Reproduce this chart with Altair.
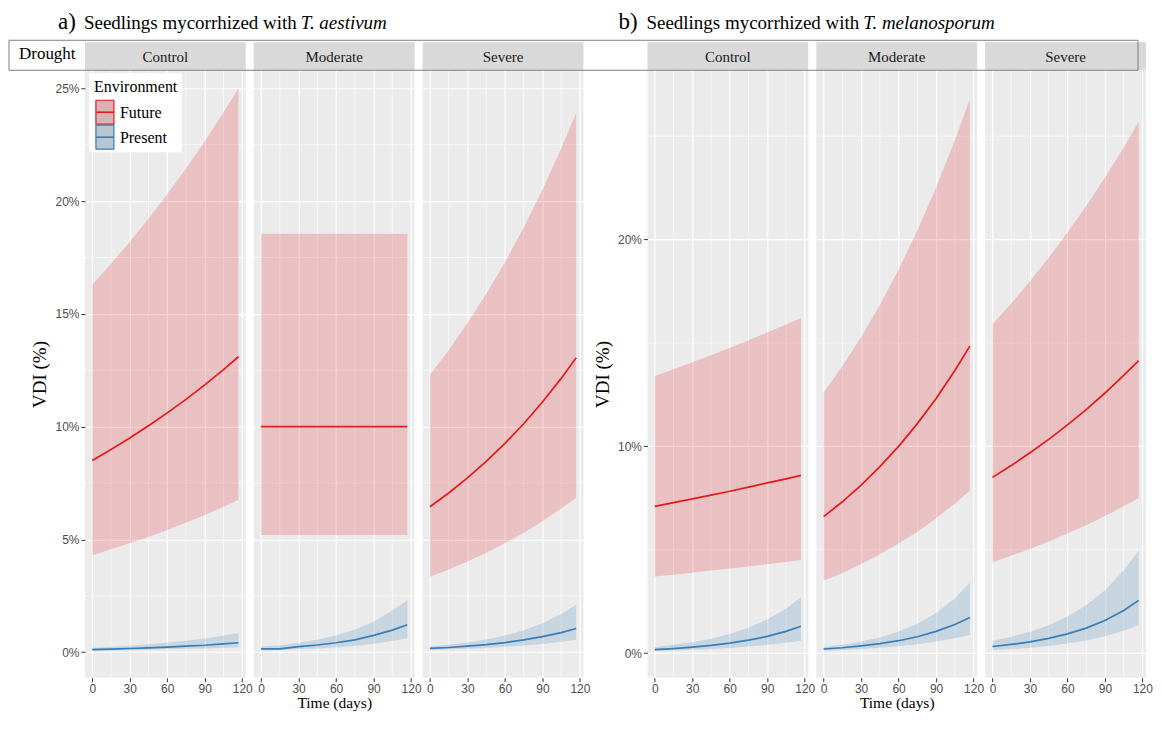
import altair as alt
import pandas as pd

days = [0, 15, 30, 45, 60, 75, 90, 105, 117]
drought_levels = ["Control", "Moderate", "Severe"]
environments = ["Future", "Present"]

# ---- a) T. aestivum ----
a_control_future_fit = [8.50, 8.99, 9.50, 10.04, 10.61, 11.21, 11.85, 12.53, 13.10]
a_control_future_lo = [4.30, 4.56, 4.83, 5.11, 5.42, 5.74, 6.08, 6.45, 6.75]
a_control_future_hi = [16.30, 17.22, 18.19, 19.22, 20.30, 21.45, 22.65, 23.93, 25.00]
a_control_present_fit = [0.12, 0.14, 0.165, 0.19, 0.23, 0.27, 0.31, 0.37, 0.42]
a_control_present_lo = [0.07, 0.08, 0.09, 0.11, 0.13, 0.15, 0.17, 0.20, 0.22]
a_control_present_hi = [0.20, 0.24, 0.29, 0.35, 0.42, 0.51, 0.61, 0.73, 0.85]

a_moderate_future_fit = [10.0, 10.0, 10.0, 10.0, 10.0, 10.0, 10.0, 10.0, 10.0]
a_moderate_future_lo = [5.2, 5.2, 5.2, 5.2, 5.2, 5.2, 5.2, 5.2, 5.2]
a_moderate_future_hi = [18.55, 18.55, 18.55, 18.55, 18.55, 18.55, 18.55, 18.55, 18.55]
a_moderate_present_fit = [0.15, 0.15, 0.25, 0.32, 0.42, 0.55, 0.75, 0.98, 1.22]
a_moderate_present_lo = [0.08, 0.09, 0.14, 0.17, 0.22, 0.28, 0.38, 0.50, 0.62]
a_moderate_present_hi = [0.25, 0.30, 0.42, 0.55, 0.75, 1.00, 1.35, 1.85, 2.30]

a_severe_future_fit = [6.45, 7.06, 7.73, 8.46, 9.26, 10.13, 11.09, 12.14, 13.05]
a_severe_future_lo = [3.35, 3.67, 4.02, 4.41, 4.83, 5.30, 5.81, 6.37, 6.85]
a_severe_future_hi = [12.30, 13.39, 14.59, 15.88, 17.29, 18.83, 20.50, 22.33, 23.90]
a_severe_present_fit = [0.17, 0.21, 0.27, 0.34, 0.43, 0.55, 0.69, 0.87, 1.05]
a_severe_present_lo = [0.10, 0.12, 0.15, 0.19, 0.24, 0.30, 0.37, 0.46, 0.55]
a_severe_present_hi = [0.25, 0.33, 0.43, 0.57, 0.74, 0.98, 1.28, 1.69, 2.10]

# ---- b) T. melanosporum ----
b_control_future_fit = [7.10, 7.28, 7.46, 7.64, 7.83, 8.03, 8.23, 8.43, 8.60]
b_control_future_lo = [3.70, 3.79, 3.89, 3.99, 4.09, 4.19, 4.30, 4.41, 4.50]
b_control_future_hi = [13.40, 13.73, 14.07, 14.41, 14.77, 15.13, 15.51, 15.89, 16.20]
b_control_present_fit = [0.17, 0.22, 0.29, 0.37, 0.48, 0.63, 0.81, 1.05, 1.30]
b_control_present_lo = [0.10, 0.13, 0.16, 0.20, 0.25, 0.32, 0.40, 0.50, 0.60]
b_control_present_hi = [0.30, 0.40, 0.53, 0.70, 0.93, 1.23, 1.63, 2.15, 2.70]

b_moderate_future_fit = [6.60, 7.32, 8.13, 9.02, 10.00, 11.10, 12.32, 13.67, 14.85]
b_moderate_future_lo = [3.50, 3.88, 4.31, 4.78, 5.30, 5.87, 6.52, 7.23, 7.85]
b_moderate_future_hi = [12.60, 13.88, 15.29, 16.84, 18.55, 20.44, 22.52, 24.80, 26.80]
b_moderate_present_fit = [0.20, 0.26, 0.35, 0.46, 0.60, 0.79, 1.05, 1.38, 1.72]
b_moderate_present_lo = [0.12, 0.15, 0.20, 0.26, 0.33, 0.43, 0.56, 0.72, 0.88]
b_moderate_present_hi = [0.30, 0.41, 0.56, 0.76, 1.04, 1.42, 1.94, 2.65, 3.40]

b_severe_future_fit = [8.50, 9.07, 9.69, 10.34, 11.04, 11.78, 12.58, 13.43, 14.15]
b_severe_future_lo = [4.40, 4.71, 5.04, 5.40, 5.78, 6.19, 6.63, 7.10, 7.50]
b_severe_future_hi = [15.90, 16.91, 17.98, 19.12, 20.34, 21.63, 23.00, 24.46, 25.70]
b_severe_present_fit = [0.32, 0.42, 0.54, 0.71, 0.93, 1.21, 1.58, 2.06, 2.55]
b_severe_present_lo = [0.15, 0.20, 0.26, 0.35, 0.46, 0.61, 0.81, 1.08, 1.35]
b_severe_present_hi = [0.60, 0.79, 1.03, 1.35, 1.77, 2.32, 3.04, 3.99, 4.95]

series = {
    ("a", "Control", "Future"): (a_control_future_fit, a_control_future_lo, a_control_future_hi),
    ("a", "Control", "Present"): (a_control_present_fit, a_control_present_lo, a_control_present_hi),
    ("a", "Moderate", "Future"): (a_moderate_future_fit, a_moderate_future_lo, a_moderate_future_hi),
    ("a", "Moderate", "Present"): (a_moderate_present_fit, a_moderate_present_lo, a_moderate_present_hi),
    ("a", "Severe", "Future"): (a_severe_future_fit, a_severe_future_lo, a_severe_future_hi),
    ("a", "Severe", "Present"): (a_severe_present_fit, a_severe_present_lo, a_severe_present_hi),
    ("b", "Control", "Future"): (b_control_future_fit, b_control_future_lo, b_control_future_hi),
    ("b", "Control", "Present"): (b_control_present_fit, b_control_present_lo, b_control_present_hi),
    ("b", "Moderate", "Future"): (b_moderate_future_fit, b_moderate_future_lo, b_moderate_future_hi),
    ("b", "Moderate", "Present"): (b_moderate_present_fit, b_moderate_present_lo, b_moderate_present_hi),
    ("b", "Severe", "Future"): (b_severe_future_fit, b_severe_future_lo, b_severe_future_hi),
    ("b", "Severe", "Present"): (b_severe_present_fit, b_severe_present_lo, b_severe_present_hi),
}

rows = []
for (g, d, e), (fit, lo, hi) in series.items():
    for t, f, l, h in zip(days, fit, lo, hi):
        rows.append(dict(group=g, drought=d, env=e, day=t, fit=f, lo=l, hi=h))
df = pd.DataFrame(rows)

x_major = [0, 30, 60, 90, 120]
x_minor = [15, 45, 75, 105]
y_major = {"a": [0, 5, 10, 15, 20, 25], "b": [0, 10, 20]}
y_minor = {"a": [2.5, 7.5, 12.5, 17.5, 22.5], "b": [5, 15, 25]}
y_domain = {"a": [-1.13, 25.8], "b": [-1.19, 28.19]}
x_domain = [-5.85, 122.85]

titles = {
    "a": [("a)", -27, 23, "normal"), ("Seedlings mycorrhized with", -1, 19, "normal"), ("T. aestivum", 216, 19, "italic")],
    "b": [("b)", -29, 23, "normal"), ("Seedlings mycorrhized with", -1, 19, "normal"), ("T. melanosporum", 216, 19, "italic")],
}

PW, PH, SH = 161, 608, 28
COLSP = 8
GAP = 48
SERIF = "Liberation Serif"
SANS = "Liberation Sans"
RED, BLUE = "#E41A1C", "#377EB8"
PANEL_BG = alt.ViewBackground(fill="#EBEBEB", strokeWidth=0)
B3_X = 84 + 5 * COLSP + 5 * PW + GAP + COLSP  # left edge of last panel (page px)
COLOR_SCALE = alt.Scale(domain=environments, range=[RED, BLUE])


def strip(g, d, idx):
    sdf = pd.DataFrame({"label": [d]})
    base = alt.Chart(sdf)
    layers = [
        base.mark_rect(color="#D9D9D9").encode(
            x=alt.value(0), x2=alt.value(PW), y=alt.value(0), y2=alt.value(SH)),
        base.mark_text(font=SERIF, fontSize=15, color="#1A1A1A").encode(
            text="label:N", x=alt.value(PW / 2), y=alt.value(SH / 2 + 1)),
    ]
    if idx == 0:
        for txt, xo, fs, style in titles[g]:
            layers.append(
                alt.Chart(pd.DataFrame({"t": [txt]})).mark_text(
                    font=SERIF, fontSize=fs, fontStyle=style, color="black",
                    align="left", baseline="alphabetic").encode(
                    text="t:N", x=alt.value(xo), y=alt.value(-13)))
    return alt.layer(*layers).properties(width=PW, height=SH)


def spacer(h):
    return alt.Chart(pd.DataFrame({"t": [""]})).mark_text().encode(
        text="t:N").properties(width=GAP, height=h)


def legend_layers():
    # key drawn like ggplot's: grey key, translucent fill, coloured border and line
    out = [alt.Chart(pd.DataFrame({"t": ["Environment"]})).mark_rect(color="white").encode(
        x=alt.value(4), x2=alt.value(97), y=alt.value(3), y2=alt.value(82))]
    out.append(alt.Chart(pd.DataFrame({"t": ["Environment"]})).mark_text(
        font=SERIF, fontSize=16, color="black", align="left", baseline="middle").encode(
        text="t:N", x=alt.value(9), y=alt.value(17)))
    for i, env in enumerate(environments):
        edf = pd.DataFrame({"env": [env]})
        y0 = 30 + i * 25
        out.append(alt.Chart(edf).mark_rect(color="#D9D9D9").encode(
            x=alt.value(11), x2=alt.value(29), y=alt.value(y0), y2=alt.value(y0 + 24)))
        out.append(alt.Chart(edf).mark_rect(fillOpacity=0.2, strokeWidth=1.2).encode(
            x=alt.value(11), x2=alt.value(29), y=alt.value(y0), y2=alt.value(y0 + 24),
            fill=alt.Fill("env:N", scale=COLOR_SCALE, legend=None),
            stroke=alt.Stroke("env:N", scale=COLOR_SCALE, legend=None)))
        out.append(alt.Chart(edf).mark_rule(strokeWidth=1.6).encode(
            x=alt.value(11), x2=alt.value(29), y=alt.value(y0 + 12),
            color=alt.Color("env:N", scale=COLOR_SCALE, legend=None)))
        out.append(alt.Chart(edf).mark_text(
            font=SERIF, fontSize=16, color="black", align="left", baseline="middle").encode(
            text="env:N", x=alt.value(35), y=alt.value(y0 + 13)))
    return out


def plot(g, d, idx):
    sub = df[(df.group == g) & (df.drought == d)]
    xs = alt.Scale(domain=x_domain, nice=False, zero=False)
    ys = alt.Scale(domain=y_domain[g], nice=False, zero=False)
    xaxis = alt.Axis(values=x_major, grid=True, gridColor="white", gridWidth=1.2,
                     domain=False, tickColor="#333333", tickSize=4,
                     labelColor="#4D4D4D", labelFont=SANS, labelFontSize=12, labelPadding=2,
                     title="Time (days)" if idx == 1 else None, titleFont=SERIF,
                     titleFontSize=15.5, titleFontWeight="normal", titleColor="black",
                     titlePadding=1)
    if idx == 0:
        yaxis = alt.Axis(values=y_major[g], grid=True, gridColor="white", gridWidth=1.2,
                         domain=False, tickColor="#333333", tickSize=4,
                         labelExpr="datum.value + '%'", labelColor="#4D4D4D",
                         labelFont=SANS, labelFontSize=12, labelPadding=2,
                         title="VDI (%)", titleFont=SERIF, titleFontSize=19,
                         titleFontWeight="normal", titleColor="black", titlePadding=5)
    else:
        yaxis = alt.Axis(values=y_major[g], grid=True, gridColor="white", gridWidth=1.2,
                         domain=False, ticks=False, labels=False, title=None)
    color = alt.Color("env:N", scale=COLOR_SCALE, legend=None)

    xminor = alt.Chart(pd.DataFrame({"v": x_minor})).mark_rule(color="white", strokeWidth=0.6).encode(
        x=alt.X("v:Q", scale=xs, axis=xaxis))
    yminor = alt.Chart(pd.DataFrame({"v": y_minor[g]})).mark_rule(color="white", strokeWidth=0.6).encode(
        y=alt.Y("v:Q", scale=ys, axis=yaxis))
    area = alt.Chart(sub).mark_area(fillOpacity=0.2, strokeWidth=0).encode(
        x=alt.X("day:Q", scale=xs, axis=xaxis),
        y=alt.Y("lo:Q", scale=ys, axis=yaxis, stack=None),
        y2="hi:Q",
        color=color)
    line = alt.Chart(sub).mark_line(strokeWidth=1.7).encode(
        x=alt.X("day:Q", scale=xs, axis=xaxis),
        y=alt.Y("fit:Q", scale=ys, axis=yaxis),
        color=color)
    layers = [xminor, yminor, area, line]
    if g == "a" and idx == 0:
        layers += legend_layers()
    if g == "b" and idx == 2:
        bdf = pd.DataFrame({"t": ["Drought"]})
        layers.append(alt.Chart(bdf).mark_rect(fillOpacity=0, stroke="#808080", strokeWidth=1).encode(
            x=alt.value(8 - B3_X), x2=alt.value(PW - 8), y=alt.value(-30), y2=alt.value(0)))
        layers.append(alt.Chart(bdf).mark_text(font=SERIF, fontSize=17, color="black",
                                               align="left", baseline="middle").encode(
            text="t:N", x=alt.value(18 - B3_X), y=alt.value(-16)))
    return alt.layer(*layers).properties(width=PW, height=PH, view=PANEL_BG)


top_row = [strip("a", d, i) for i, d in enumerate(drought_levels)] + [spacer(SH)] + \
          [strip("b", d, i) for i, d in enumerate(drought_levels)]
bottom_row = [plot("a", d, i) for i, d in enumerate(drought_levels)] + [spacer(PH)] + \
             [plot("b", d, i) for i, d in enumerate(drought_levels)]

chart = alt.concat(*(top_row + bottom_row), columns=7, spacing={"row": 0, "column": COLSP},
                   bounds="flush", align="each").resolve_scale(
    color="independent", fill="independent", stroke="independent",
    x="independent", y="independent").properties(
    padding={"top": 3, "left": 0, "right": 0, "bottom": 0}).configure_view(strokeWidth=0)

chart.save("out.html", embed_options={"renderer": "svg", "actions": False})
